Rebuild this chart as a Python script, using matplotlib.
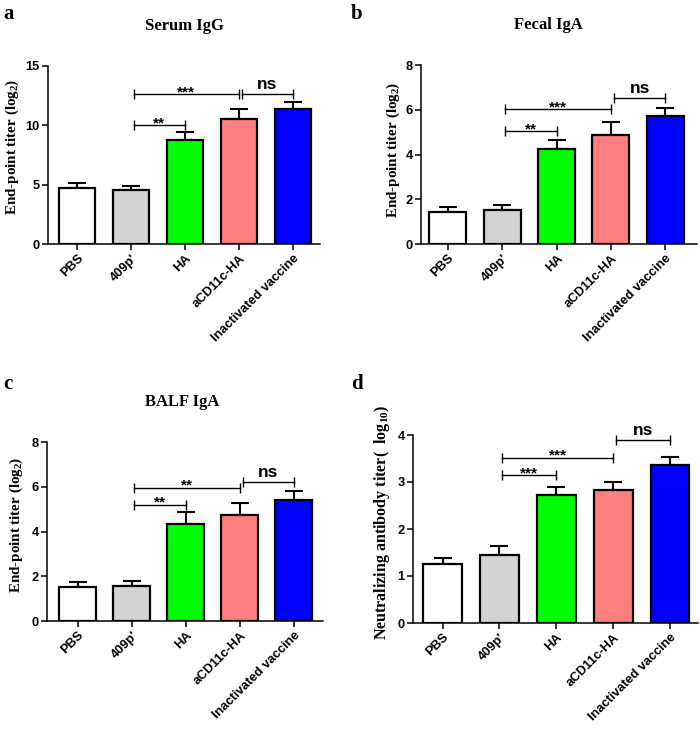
import matplotlib.pyplot as plt

plt.rcParams['mathtext.fontset'] = 'custom'
plt.rcParams['mathtext.rm'] = 'Liberation Serif:bold'
plt.rcParams['mathtext.default'] = 'regular'

groups = ['PBS', "409p'", 'HA', 'aCD11c-HA', 'Inactivated vaccine']
colors = ['white', '#d3d3d3', '#00ff00', '#ff7f7f', '#0000ff']

# mean and upper error (SEM) per panel
serum_igg = [4.73, 4.53, 8.73, 10.54, 11.41]
serum_igg_err = [0.40, 0.37, 0.71, 0.84, 0.56]
fecal_iga = [1.42, 1.51, 4.25, 4.86, 5.72]
fecal_iga_err = [0.24, 0.24, 0.40, 0.60, 0.38]
balf_iga = [1.51, 1.57, 4.33, 4.75, 5.41]
balf_iga_err = [0.22, 0.21, 0.54, 0.54, 0.40]
neut = [1.26, 1.45, 2.72, 2.83, 3.37]
neut_err = [0.12, 0.19, 0.17, 0.16, 0.16]

# significance brackets: (from group, to group, height, label)
serum_sig = [(1, 3, 12.6, '***'), (3, 4, 12.6, 'ns'), (1, 2, 10.03, '**')]
fecal_sig = [(1, 3, 6.02, '***'), (3, 4, 6.53, 'ns'), (1, 2, 5.04, '**')]
balf_sig = [(1, 3, 5.95, '**'), (3, 4, 6.23, 'ns'), (1, 2, 5.2, '**')]
neut_sig = [(1, 3, 3.52, '***'), (3, 4, 3.89, 'ns'), (1, 2, 3.15, '***')]

W, H = 700, 737
fig = plt.figure(figsize=(7, 7.37), dpi=100)

serif = 'Liberation Serif'
sans = 'Liberation Sans'


def px_axes(l, r, t, b):
    return fig.add_axes([l / W, 1 - b / H, (r - l) / W, (b - t) / H])


def panel(ax, vals, errs, sig, ymax, yticks, xlim):
    x = range(len(groups))
    ax.bar(x, vals, width=0.68, color=colors, edgecolor='black', linewidth=1.6, zorder=2)
    ax.errorbar(x, vals, yerr=[[0] * len(errs), errs], fmt='none', ecolor='black',
                elinewidth=1.5, capsize=6.5, capthick=1.5, zorder=1)
    for i, j, y, lab in sig:
        x0 = i + 0.05
        ax.plot([x0, j], [y, y], color='black', lw=1.0)
        ax.plot([x0, j], [y, y], ls='none', marker='|', ms=7, mew=1.0, color='black')
        if lab == 'ns':
            ax.annotate(lab, ((x0 + j) / 2, y), xytext=(0, 3.6), textcoords='offset points',
                        ha='center', va='baseline', fontsize=12.5, fontweight='bold', family=sans)
        else:
            ax.annotate(lab, ((x0 + j) / 2, y), xytext=(0, -1.5), textcoords='offset points',
                        ha='center', va='baseline', fontsize=11, fontweight='bold', family=sans)
    ax.set_ylim(0, ymax)
    ax.set_xlim(*xlim)
    ax.set_yticks(yticks)
    ax.set_xticks(list(x))
    ax.set_xticklabels(groups, rotation=45, ha='right', rotation_mode='anchor')
    for lab in ax.get_xticklabels() + ax.get_yticklabels():
        lab.set_fontfamily(sans)
        lab.set_fontweight('bold')
        lab.set_fontsize(9.3)
    ax.spines['top'].set_visible(False)
    ax.spines['right'].set_visible(False)
    ax.spines['left'].set_linewidth(1.1)
    ax.spines['bottom'].set_linewidth(1.1)
    ax.tick_params(axis='both', direction='out', width=1.1, length=4, pad=2)


ax_a = px_axes(48, 320, 66, 244)
panel(ax_a, serum_igg, serum_igg_err, serum_sig, 15, [0, 5, 10, 15], (-0.54, 4.5))
ax_b = px_axes(421, 697, 65, 244)
panel(ax_b, fecal_iga, fecal_iga_err, fecal_sig, 8, [0, 2, 4, 6, 8], (-0.49, 4.58))
ax_c = px_axes(47, 323, 442, 621)
panel(ax_c, balf_iga, balf_iga_err, balf_sig, 8, [0, 2, 4, 6, 8], (-0.57, 4.54))
ax_d = px_axes(413, 698, 435, 623)
panel(ax_d, neut, neut_err, neut_sig, 4, [0, 1, 2, 3, 4], (-0.52, 4.49))


def ftext(x, y, s, **kw):
    fig.text(x / W, 1 - y / H, s, **kw)


for x, y, s in [(3, 14, 'a'), (351, 14, 'b'), (3, 384, 'c'), (351, 384, 'd')]:
    ftext(x, y, s, family=serif, fontweight='bold', fontsize=15, va='center', ha='left')

for x, y, s in [(184, 26, 'Serum IgG'), (548, 25, 'Fecal IgA'), (182, 402, 'BALF IgA')]:
    ftext(x, y, s, family=serif, fontweight='bold', fontsize=12, va='center', ha='center')

ylab = 'End-point titer (log$_2$)'
for x, y in [(12, 147), (393, 150), (16, 525)]:
    ftext(x, y, ylab, family=serif, fontweight='bold', fontsize=10.8, rotation=90,
          va='center', ha='center')
ftext(382, 522, 'Neutralizing antibody titer(  log$_{10}$)', family=serif, fontweight='bold',
      fontsize=11.5, rotation=90, va='center', ha='center')

fig.savefig('out.png', dpi=100)
